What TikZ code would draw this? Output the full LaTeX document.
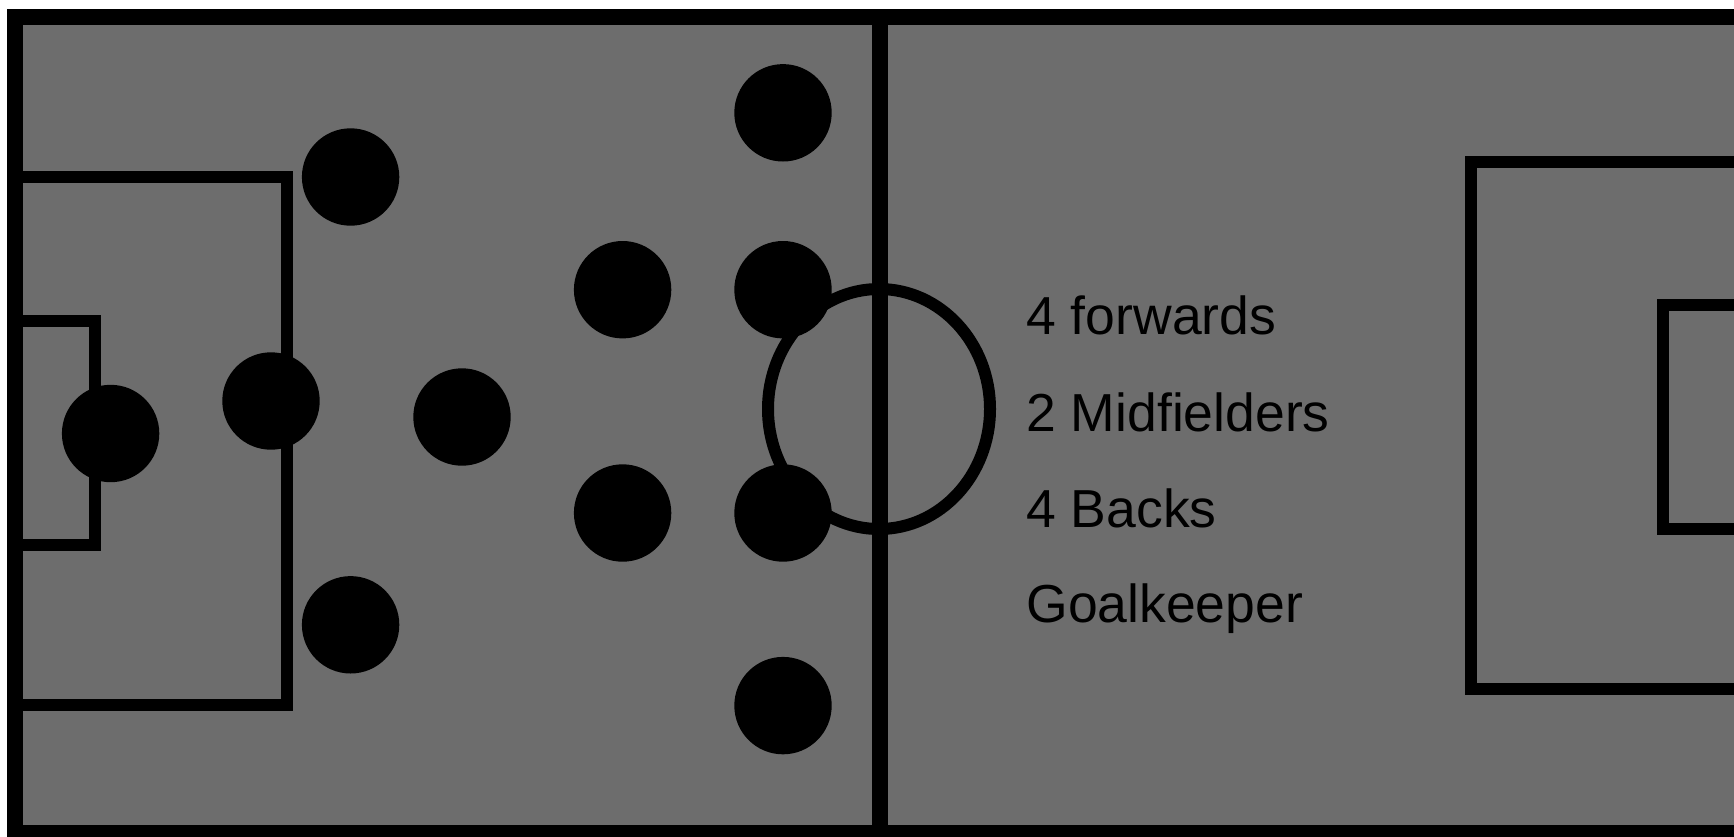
\documentclass[tikz,border=0pt]{standalone}
\usepackage{fontspec}
\setmainfont{Liberation Sans}
\definecolor{pitch}{RGB}{109,109,109}
\begin{document}
\begin{tikzpicture}[x=0.5pt,y=-0.5pt,
  player/.style={circle,fill=black,inner sep=0pt,minimum size=48.7pt},
  lbl/.style={anchor=base west,inner sep=0pt,font=\fontsize{26.75pt}{30pt}\selectfont},
  thick line/.style={line width=8pt},
  thin line/.style={line width=6pt,line join=miter}]
\useasboundingbox (0,0) rectangle (1734,836);
\clip (0,0) rectangle (1734,836);
% field
\draw[thick line,fill=pitch] (15,17) rectangle (1780,833);
% halfway line
\draw[thick line] (879.5,17) -- (879.5,833);
% centre circle
\draw[thin line] (879,409) ellipse [x radius=111, y radius=120];
% left boxes
\draw[thin line] (15,177) -- (287,177) -- (287,705) -- (15,705);
\draw[thin line] (15,321) -- (95,321) -- (95,545) -- (15,545);
% right boxes
\draw[thin line] (1780,161.5) -- (1471,161.5) -- (1471,689) -- (1780,689);
\draw[thin line] (1780,305) -- (1663,305) -- (1663,529) -- (1780,529);
% players
\node[player] (gk) at (110.6,433.5) {};
\node[player] (b1) at (350.6,177) {};
\node[player] (b2) at (271,401) {};
\node[player] (b3) at (462,417) {};
\node[player] (b4) at (350.6,624.8) {};
\node[player] (m1) at (622.6,289.7) {};
\node[player] (m2) at (622.6,513) {};
\node[player] (f1) at (783,112.8) {};
\node[player] (f2) at (783,289.7) {};
\node[player] (f3) at (783,513) {};
\node[player] (f4) at (783,705.6) {};
% labels
\node[lbl] (tf) at (1026,334) {4 forwards};
\node[lbl] (tm) at (1026,431) {2 Midfielders};
\node[lbl] (tb) at (1026,527) {4 Backs};
\node[lbl] (tg) at (1026,622) {Goalkeeper};
\end{tikzpicture}
\end{document}
